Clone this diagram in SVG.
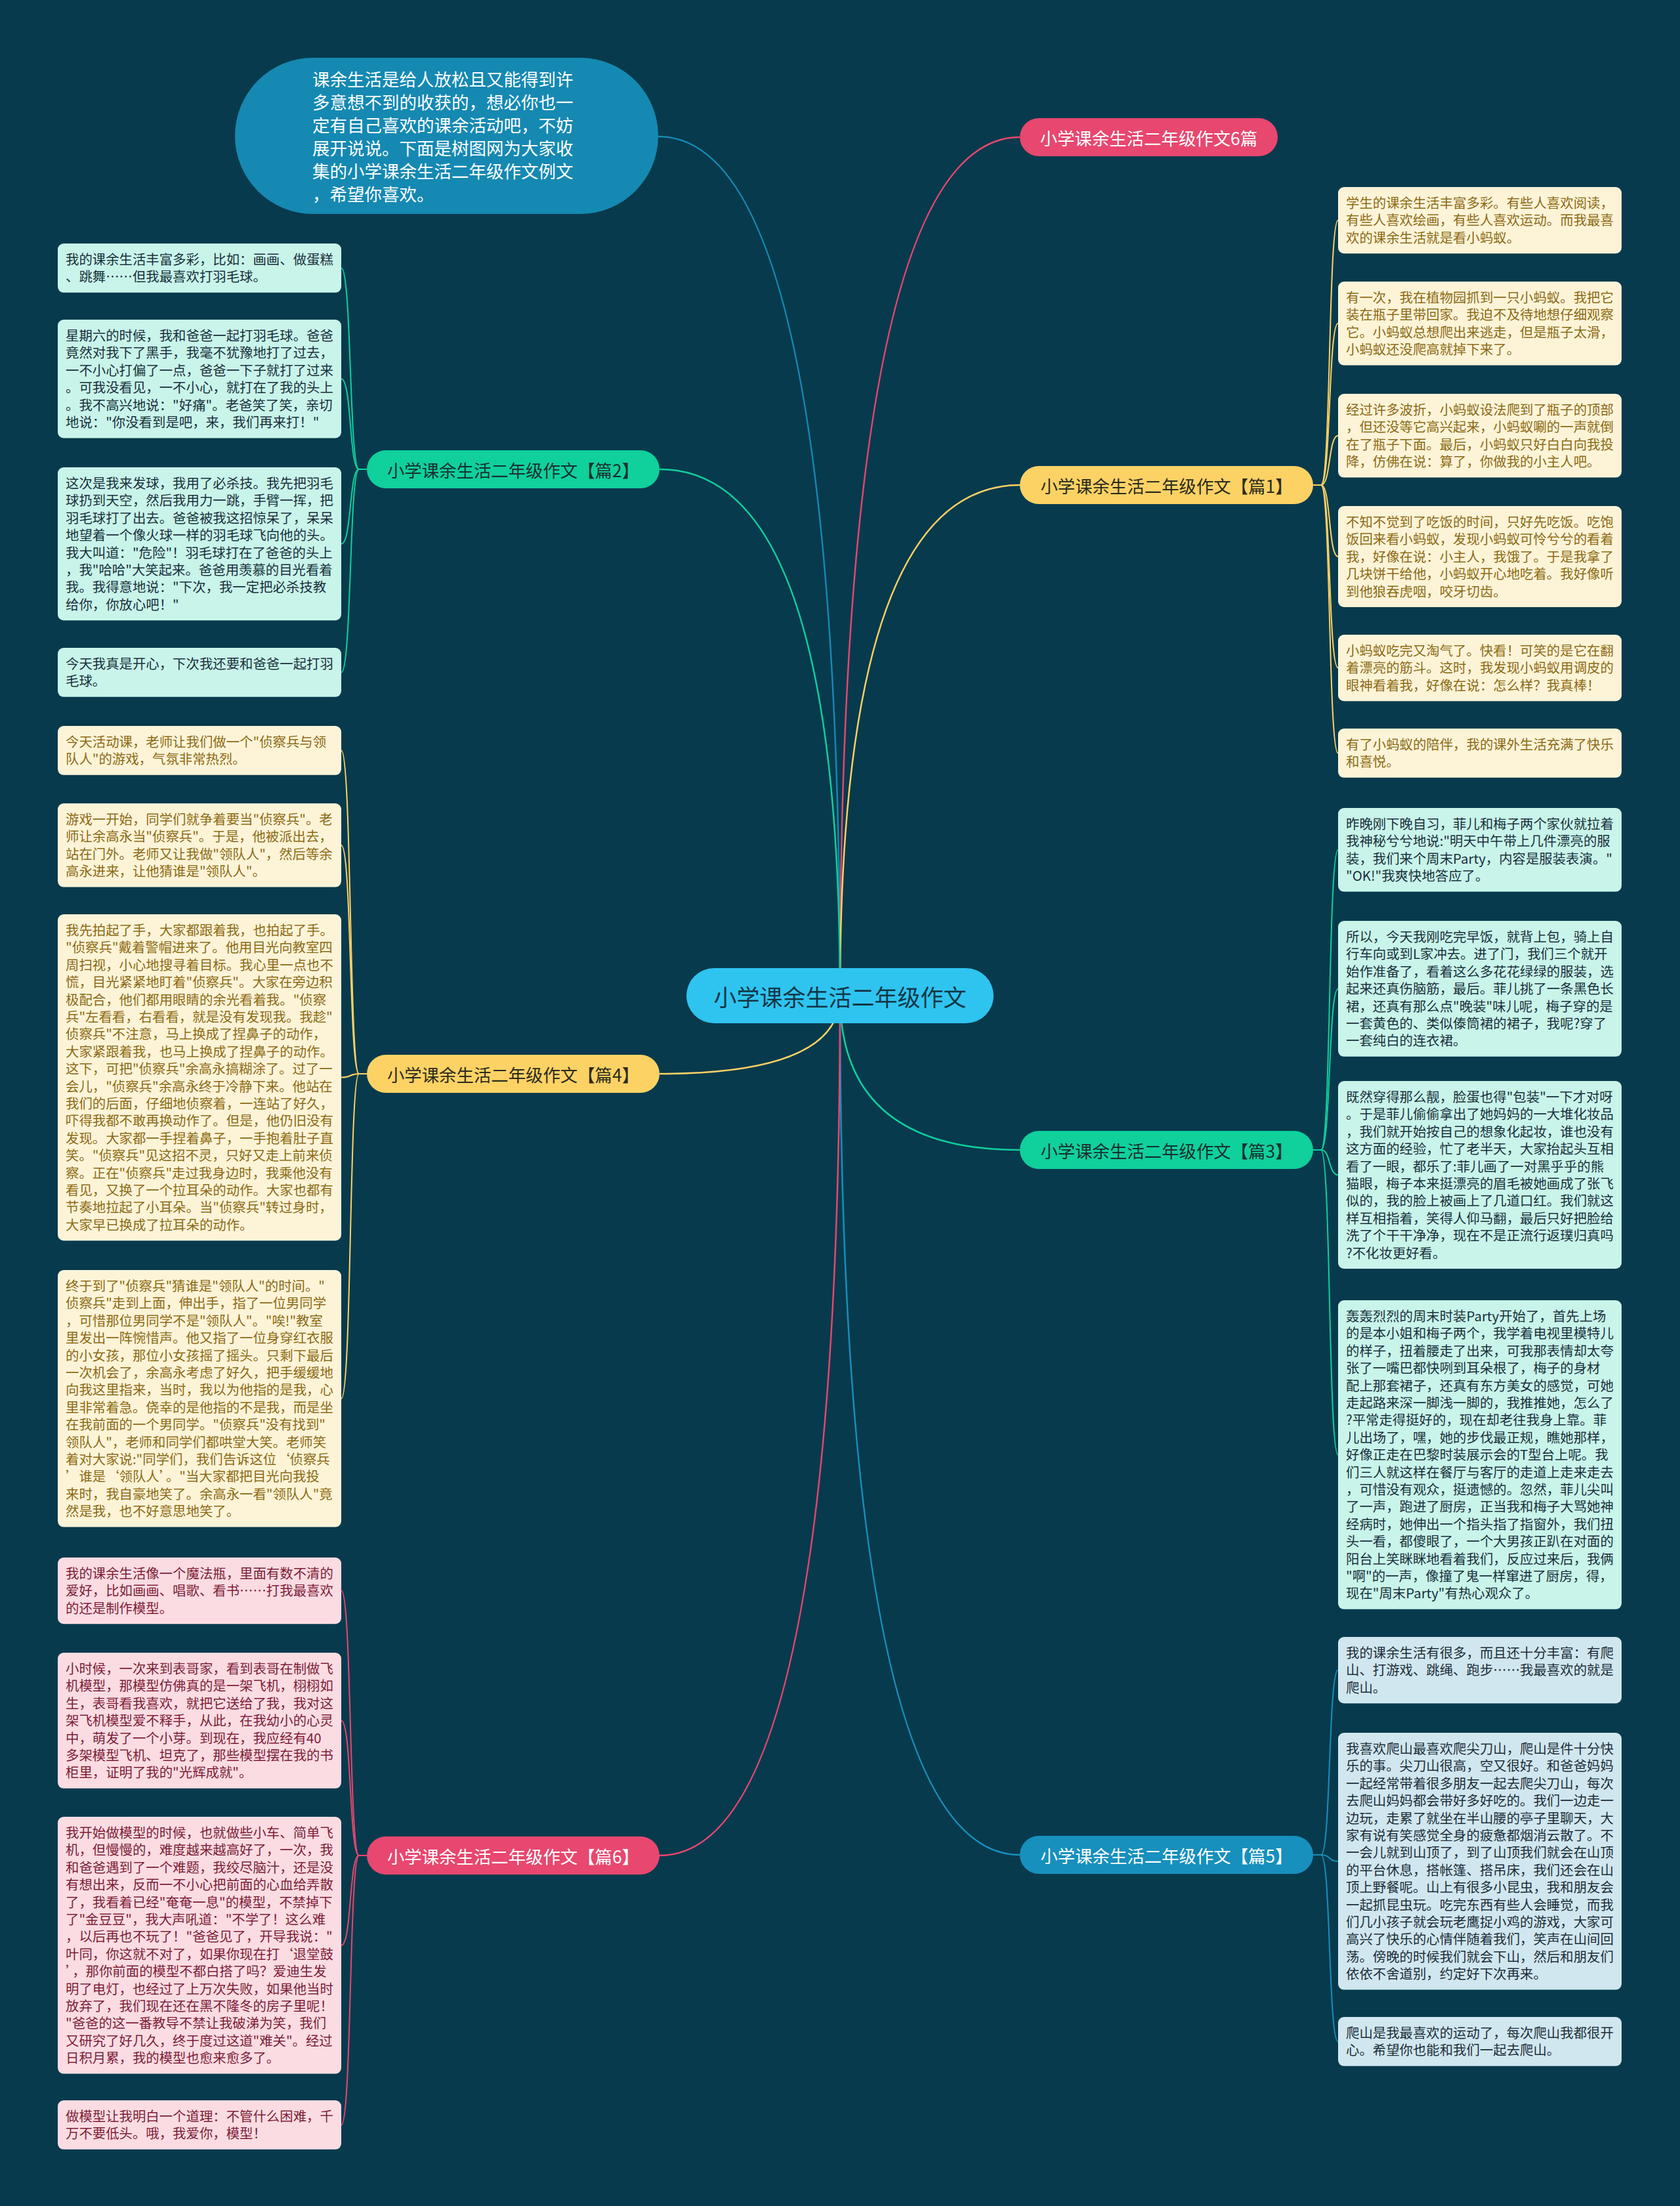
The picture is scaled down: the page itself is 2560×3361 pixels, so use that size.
<svg xmlns="http://www.w3.org/2000/svg" width="2560" height="3361" viewBox="0 0 2560 3361">
<style>
text{font-family:"Noto Sans CJK SC","Noto Sans",sans-serif}
.lt{font-size:20.4px}
.bt{font-size:26.4px}
.m-mint{fill:#c9f4ea}.t-mint{fill:#18303a}
.m-cream{fill:#fdf4d8}.t-cream{fill:#8c6a14}
.m-pink{fill:#fbdce3}.t-pink{fill:#7d1d36}
.m-blue{fill:#d0e7ef}.t-blue{fill:#1c2d38}
.c{fill:none;stroke-width:2.5}
.cl{fill:none;stroke-width:2}
.s-blue{stroke:#1689b3}.s-pink{stroke:#e8476f}.s-yellow{stroke:#fdd264}.s-green{stroke:#10d09c}.s-b5{stroke:#1790bd}
</style>
<rect x="0" y="0" width="2560" height="3361" fill="#083a4d"/>
<g id="connectors">
<path class="c s-blue" d="M1003,208 Q1280,208 1280,1517"/>
<path class="c s-pink" d="M1280,1517 Q1280,209 1554,209"/>
<path class="c s-yellow" d="M1280,1517 Q1280,739 1554,739"/>
<path class="c s-green" d="M1280,1517 Q1280,1752 1554,1752"/>
<path class="c s-b5" d="M1280,1517 Q1280,2826 1554,2826"/>
<path class="c s-green" d="M1280,1517 Q1280,715 1005,715"/>
<path class="c s-yellow" d="M1280,1517 Q1280,1636 1005,1636"/>
<path class="c s-pink" d="M1280,1517 Q1280,2827 1005,2827"/>
<path class="cl s-green" d="M559,715 L547,715 C532,715 536,408.4 520,408.4"/>
<path class="cl s-green" d="M559,715 L547,715 C532,715 536,577.2 520,577.2"/>
<path class="cl s-green" d="M559,715 L547,715 C532,715 536,828.6 520,828.6"/>
<path class="cl s-green" d="M559,715 L547,715 C532,715 536,1024.4 520,1024.4"/>
<path class="cl s-yellow" d="M559,1636 L547,1636 C532,1636 536,1143.4 520,1143.4"/>
<path class="cl s-yellow" d="M559,1636 L547,1636 C532,1636 536,1287.8 520,1287.8"/>
<path class="cl s-yellow" d="M559,1636 L547,1636 C532,1636 536,1641.6 520,1641.6"/>
<path class="cl s-yellow" d="M559,1636 L547,1636 C532,1636 536,2130.8 520,2130.8"/>
<path class="cl s-pink" d="M559,2827 L547,2827 C532,2827 536,2423.6 520,2423.6"/>
<path class="cl s-pink" d="M559,2827 L547,2827 C532,2827 536,2621.4 520,2621.4"/>
<path class="cl s-pink" d="M559,2827 L547,2827 C532,2827 536,2963.8 520,2963.8"/>
<path class="cl s-pink" d="M559,2827 L547,2827 C532,2827 536,3237.4 520,3237.4"/>
<path class="cl s-yellow" d="M2001,739 L2013,739 C2028,739 2024,335.6 2039,335.6"/>
<path class="cl s-yellow" d="M2001,739 L2013,739 C2028,739 2024,492.8 2039,492.8"/>
<path class="cl s-yellow" d="M2001,739 L2013,739 C2028,739 2024,663.8 2039,663.8"/>
<path class="cl s-yellow" d="M2001,739 L2013,739 C2028,739 2024,848 2039,848"/>
<path class="cl s-yellow" d="M2001,739 L2013,739 C2028,739 2024,1017.6 2039,1017.6"/>
<path class="cl s-yellow" d="M2001,739 L2013,739 C2028,739 2024,1147.4 2039,1147.4"/>
<path class="cl s-green" d="M2001,1752 L2013,1752 C2028,1752 2024,1294.8 2039,1294.8"/>
<path class="cl s-green" d="M2001,1752 L2013,1752 C2028,1752 2024,1506.4 2039,1506.4"/>
<path class="cl s-green" d="M2001,1752 L2013,1752 C2028,1752 2024,1790 2039,1790"/>
<path class="cl s-green" d="M2001,1752 L2013,1752 C2028,1752 2024,2216.4 2039,2216.4"/>
<path class="cl s-b5" d="M2001,2826 L2013,2826 C2028,2826 2024,2544.6 2039,2544.6"/>
<path class="cl s-b5" d="M2001,2826 L2013,2826 C2028,2826 2024,2835.8 2039,2835.8"/>
<path class="cl s-b5" d="M2001,2826 L2013,2826 C2028,2826 2024,3110.4 2039,3110.4"/>
</g>
<g id="center">
<rect x="1046" y="1475" width="468" height="84" rx="42" fill="#2fc4f0"/>
<text x="1280" y="1517" text-anchor="middle" dominant-baseline="central" font-size="35" fill="#123645">小学课余生活二年级作文</text>
</g>
<g id="intro">
<rect x="358" y="88" width="645" height="238" rx="119" fill="#1589b2"/>
<text x="476" y="131" font-size="26.5" fill="#ffffff"><tspan x="476">课余生活是给人放松且又能得到许</tspan><tspan x="476" dy="35">多意想不到的收获的，想必你也一</tspan><tspan x="476" dy="35">定有自己喜欢的课余活动吧，不妨</tspan><tspan x="476" dy="35">展开说说。下面是树图网为大家收</tspan><tspan x="476" dy="35">集的小学课余生活二年级作文例文</tspan><tspan x="476" dy="35">，希望你喜欢。</tspan></text>
</g>
<g id="b-6pian">
<rect x="1554" y="180" width="393" height="58" rx="29" fill="#e8476f"/>
<text class="bt" x="1750.5" y="209" text-anchor="middle" dominant-baseline="central" fill="#ffffff">小学课余生活二年级作文6篇</text>
</g>
<g id="b-p1">
<rect x="1554" y="710" width="447" height="58" rx="29" fill="#fdd264"/>
<text class="bt" x="1777.5" y="739" text-anchor="middle" dominant-baseline="central" fill="#2b2a1e">小学课余生活二年级作文【篇1】</text>
</g>
<g id="b-p3">
<rect x="1554" y="1723" width="447" height="58" rx="29" fill="#10d09c"/>
<text class="bt" x="1777.5" y="1752" text-anchor="middle" dominant-baseline="central" fill="#17302e">小学课余生活二年级作文【篇3】</text>
</g>
<g id="b-p5">
<rect x="1554" y="2797" width="447" height="58" rx="29" fill="#1790bd"/>
<text class="bt" x="1777.5" y="2826" text-anchor="middle" dominant-baseline="central" fill="#ffffff">小学课余生活二年级作文【篇5】</text>
</g>
<g id="b-p2">
<rect x="559" y="686" width="446" height="58" rx="29" fill="#10d09c"/>
<text class="bt" x="782" y="715" text-anchor="middle" dominant-baseline="central" fill="#17302e">小学课余生活二年级作文【篇2】</text>
</g>
<g id="b-p4">
<rect x="559" y="1607" width="446" height="58" rx="29" fill="#fdd264"/>
<text class="bt" x="782" y="1636" text-anchor="middle" dominant-baseline="central" fill="#2b2a1e">小学课余生活二年级作文【篇4】</text>
</g>
<g id="b-p6">
<rect x="559" y="2798" width="446" height="58" rx="29" fill="#e8476f"/>
<text class="bt" x="782" y="2827" text-anchor="middle" dominant-baseline="central" fill="#ffffff">小学课余生活二年级作文【篇6】</text>
</g>
<g id="l2a"><rect class="m-mint" x="88" y="371" width="432" height="74.8" rx="9"/><text class="lt t-mint" x="100" y="403"><tspan x="100">我的课余生活丰富多彩，比如：画画、做蛋糕</tspan><tspan x="100" dy="26.4">、跳舞……但我最喜欢打羽毛球。</tspan></text></g>
<g id="l2b"><rect class="m-mint" x="88" y="487" width="432" height="180.4" rx="9"/><text class="lt t-mint" x="100" y="519"><tspan x="100">星期六的时候，我和爸爸一起打羽毛球。爸爸</tspan><tspan x="100" dy="26.4">竟然对我下了黑手，我毫不犹豫地打了过去，</tspan><tspan x="100" dy="26.4">一不小心打偏了一点，爸爸一下子就打了过来</tspan><tspan x="100" dy="26.4">。可我没看见，一不小心，就打在了我的头上</tspan><tspan x="100" dy="26.4">。我不高兴地说："好痛"。老爸笑了笑，亲切</tspan><tspan x="100" dy="26.4">地说："你没看到是吧，来，我们再来打！"</tspan></text></g>
<g id="l2c"><rect class="m-mint" x="88" y="712" width="432" height="233.2" rx="9"/><text class="lt t-mint" x="100" y="744"><tspan x="100">这次是我来发球，我用了必杀技。我先把羽毛</tspan><tspan x="100" dy="26.4">球扔到天空，然后我用力一跳，手臂一挥，把</tspan><tspan x="100" dy="26.4">羽毛球打了出去。爸爸被我这招惊呆了，呆呆</tspan><tspan x="100" dy="26.4">地望着一个像火球一样的羽毛球飞向他的头。</tspan><tspan x="100" dy="26.4">我大叫道："危险"！羽毛球打在了爸爸的头上</tspan><tspan x="100" dy="26.4">，我"哈哈"大笑起来。爸爸用羡慕的目光看着</tspan><tspan x="100" dy="26.4">我。我得意地说："下次，我一定把必杀技教</tspan><tspan x="100" dy="26.4">给你，你放心吧！"</tspan></text></g>
<g id="l2d"><rect class="m-mint" x="88" y="987" width="432" height="74.8" rx="9"/><text class="lt t-mint" x="100" y="1019"><tspan x="100">今天我真是开心，下次我还要和爸爸一起打羽</tspan><tspan x="100" dy="26.4">毛球。</tspan></text></g>
<g id="l4a"><rect class="m-cream" x="88" y="1106" width="432" height="74.8" rx="9"/><text class="lt t-cream" x="100" y="1138"><tspan x="100">今天活动课，老师让我们做一个"侦察兵与领</tspan><tspan x="100" dy="26.4">队人"的游戏，气氛非常热烈。</tspan></text></g>
<g id="l4b"><rect class="m-cream" x="88" y="1224" width="432" height="127.6" rx="9"/><text class="lt t-cream" x="100" y="1256"><tspan x="100">游戏一开始，同学们就争着要当"侦察兵"。老</tspan><tspan x="100" dy="26.4">师让余高永当"侦察兵"。于是，他被派出去，</tspan><tspan x="100" dy="26.4">站在门外。老师又让我做"领队人"，然后等余</tspan><tspan x="100" dy="26.4">高永进来，让他猜谁是"领队人"。</tspan></text></g>
<g id="l4c"><rect class="m-cream" x="88" y="1393" width="432" height="497.2" rx="9"/><text class="lt t-cream" x="100" y="1425"><tspan x="100">我先拍起了手，大家都跟着我，也拍起了手。</tspan><tspan x="100" dy="26.4">"侦察兵"戴着警帽进来了。他用目光向教室四</tspan><tspan x="100" dy="26.4">周扫视，小心地搜寻着目标。我心里一点也不</tspan><tspan x="100" dy="26.4">慌，目光紧紧地盯着"侦察兵"。大家在旁边积</tspan><tspan x="100" dy="26.4">极配合，他们都用眼睛的余光看着我。"侦察</tspan><tspan x="100" dy="26.4">兵"左看看，右看看，就是没有发现我。我趁"</tspan><tspan x="100" dy="26.4">侦察兵"不注意，马上换成了捏鼻子的动作，</tspan><tspan x="100" dy="26.4">大家紧跟着我，也马上换成了捏鼻子的动作。</tspan><tspan x="100" dy="26.4">这下，可把"侦察兵"余高永搞糊涂了。过了一</tspan><tspan x="100" dy="26.4">会儿，"侦察兵"余高永终于冷静下来。他站在</tspan><tspan x="100" dy="26.4">我们的后面，仔细地侦察着，一连站了好久，</tspan><tspan x="100" dy="26.4">吓得我都不敢再换动作了。但是，他仍旧没有</tspan><tspan x="100" dy="26.4">发现。大家都一手捏着鼻子，一手抱着肚子直</tspan><tspan x="100" dy="26.4">笑。"侦察兵"见这招不灵，只好又走上前来侦</tspan><tspan x="100" dy="26.4">察。正在"侦察兵"走过我身边时，我乘他没有</tspan><tspan x="100" dy="26.4">看见，又换了一个拉耳朵的动作。大家也都有</tspan><tspan x="100" dy="26.4">节奏地拉起了小耳朵。当"侦察兵"转过身时，</tspan><tspan x="100" dy="26.4">大家早已换成了拉耳朵的动作。</tspan></text></g>
<g id="l4d"><rect class="m-cream" x="88" y="1935" width="432" height="391.6" rx="9"/><text class="lt t-cream" x="100" y="1967"><tspan x="100">终于到了"侦察兵"猜谁是"领队人"的时间。"</tspan><tspan x="100" dy="26.4">侦察兵"走到上面，伸出手，指了一位男同学</tspan><tspan x="100" dy="26.4">，可惜那位男同学不是"领队人"。"唉!"教室</tspan><tspan x="100" dy="26.4">里发出一阵惋惜声。他又指了一位身穿红衣服</tspan><tspan x="100" dy="26.4">的小女孩，那位小女孩摇了摇头。只剩下最后</tspan><tspan x="100" dy="26.4">一次机会了，余高永考虑了好久，把手缓缓地</tspan><tspan x="100" dy="26.4">向我这里指来，当时，我以为他指的是我，心</tspan><tspan x="100" dy="26.4">里非常着急。侥幸的是他指的不是我，而是坐</tspan><tspan x="100" dy="26.4">在我前面的一个男同学。"侦察兵"没有找到"</tspan><tspan x="100" dy="26.4">领队人"，老师和同学们都哄堂大笑。老师笑</tspan><tspan x="100" dy="26.4">着对大家说:"同学们，我们告诉这位‘侦察兵</tspan><tspan x="100" dy="26.4">’谁是‘领队人’。"当大家都把目光向我投</tspan><tspan x="100" dy="26.4">来时，我自豪地笑了。余高永一看"领队人"竟</tspan><tspan x="100" dy="26.4">然是我，也不好意思地笑了。</tspan></text></g>
<g id="l6a"><rect class="m-pink" x="88" y="2373" width="432" height="101.2" rx="9"/><text class="lt t-pink" x="100" y="2405"><tspan x="100">我的课余生活像一个魔法瓶，里面有数不清的</tspan><tspan x="100" dy="26.4">爱好，比如画画、唱歌、看书……打我最喜欢</tspan><tspan x="100" dy="26.4">的还是制作模型。</tspan></text></g>
<g id="l6b"><rect class="m-pink" x="88" y="2518" width="432" height="206.8" rx="9"/><text class="lt t-pink" x="100" y="2550"><tspan x="100">小时候，一次来到表哥家，看到表哥在制做飞</tspan><tspan x="100" dy="26.4">机模型，那模型仿佛真的是一架飞机，栩栩如</tspan><tspan x="100" dy="26.4">生，表哥看我喜欢，就把它送给了我，我对这</tspan><tspan x="100" dy="26.4">架飞机模型爱不释手，从此，在我幼小的心灵</tspan><tspan x="100" dy="26.4">中，萌发了一个小芽。到现在，我应经有40</tspan><tspan x="100" dy="26.4">多架模型飞机、坦克了，那些模型摆在我的书</tspan><tspan x="100" dy="26.4">柜里，证明了我的"光辉成就"。</tspan></text></g>
<g id="l6c"><rect class="m-pink" x="88" y="2768" width="432" height="391.6" rx="9"/><text class="lt t-pink" x="100" y="2800"><tspan x="100">我开始做模型的时候，也就做些小车、简单飞</tspan><tspan x="100" dy="26.4">机，但慢慢的，难度越来越高好了，一次，我</tspan><tspan x="100" dy="26.4">和爸爸遇到了一个难题，我绞尽脑汁，还是没</tspan><tspan x="100" dy="26.4">有想出来，反而一不小心把前面的心血给弄散</tspan><tspan x="100" dy="26.4">了，我看着已经"奄奄一息"的模型，不禁掉下</tspan><tspan x="100" dy="26.4">了"金豆豆"，我大声吼道："不学了！这么难</tspan><tspan x="100" dy="26.4">，以后再也不玩了！"爸爸见了，开导我说："</tspan><tspan x="100" dy="26.4">叶同，你这就不对了，如果你现在打‘退堂鼓</tspan><tspan x="100" dy="26.4">’，那你前面的模型不都白搭了吗？爱迪生发</tspan><tspan x="100" dy="26.4">明了电灯，也经过了上万次失败，如果他当时</tspan><tspan x="100" dy="26.4">放弃了，我们现在还在黑不隆冬的房子里呢！</tspan><tspan x="100" dy="26.4">"爸爸的这一番教导不禁让我破涕为笑，我们</tspan><tspan x="100" dy="26.4">又研究了好几久，终于度过这道"难关"。经过</tspan><tspan x="100" dy="26.4">日积月累，我的模型也愈来愈多了。</tspan></text></g>
<g id="l6d"><rect class="m-pink" x="88" y="3200" width="432" height="74.8" rx="9"/><text class="lt t-pink" x="100" y="3232"><tspan x="100">做模型让我明白一个道理：不管什么困难，千</tspan><tspan x="100" dy="26.4">万不要低头。哦，我爱你，模型！</tspan></text></g>
<g id="r1a"><rect class="m-cream" x="2039" y="285" width="432" height="101.2" rx="9"/><text class="lt t-cream" x="2051" y="317"><tspan x="2051">学生的课余生活丰富多彩。有些人喜欢阅读，</tspan><tspan x="2051" dy="26.4">有些人喜欢绘画，有些人喜欢运动。而我最喜</tspan><tspan x="2051" dy="26.4">欢的课余生活就是看小蚂蚁。</tspan></text></g>
<g id="r1b"><rect class="m-cream" x="2039" y="429" width="432" height="127.6" rx="9"/><text class="lt t-cream" x="2051" y="461"><tspan x="2051">有一次，我在植物园抓到一只小蚂蚁。我把它</tspan><tspan x="2051" dy="26.4">装在瓶子里带回家。我迫不及待地想仔细观察</tspan><tspan x="2051" dy="26.4">它。小蚂蚁总想爬出来逃走，但是瓶子太滑，</tspan><tspan x="2051" dy="26.4">小蚂蚁还没爬高就掉下来了。</tspan></text></g>
<g id="r1c"><rect class="m-cream" x="2039" y="600" width="432" height="127.6" rx="9"/><text class="lt t-cream" x="2051" y="632"><tspan x="2051">经过许多波折，小蚂蚁设法爬到了瓶子的顶部</tspan><tspan x="2051" dy="26.4">，但还没等它高兴起来，小蚂蚁唰的一声就倒</tspan><tspan x="2051" dy="26.4">在了瓶子下面。最后，小蚂蚁只好白白向我投</tspan><tspan x="2051" dy="26.4">降，仿佛在说：算了，你做我的小主人吧。</tspan></text></g>
<g id="r1d"><rect class="m-cream" x="2039" y="771" width="432" height="154" rx="9"/><text class="lt t-cream" x="2051" y="803"><tspan x="2051">不知不觉到了吃饭的时间，只好先吃饭。吃饱</tspan><tspan x="2051" dy="26.4">饭回来看小蚂蚁，发现小蚂蚁可怜兮兮的看着</tspan><tspan x="2051" dy="26.4">我，好像在说：小主人，我饿了。于是我拿了</tspan><tspan x="2051" dy="26.4">几块饼干给他，小蚂蚁开心地吃着。我好像听</tspan><tspan x="2051" dy="26.4">到他狼吞虎咽，咬牙切齿。</tspan></text></g>
<g id="r1e"><rect class="m-cream" x="2039" y="967" width="432" height="101.2" rx="9"/><text class="lt t-cream" x="2051" y="999"><tspan x="2051">小蚂蚁吃完又淘气了。快看！可笑的是它在翻</tspan><tspan x="2051" dy="26.4">着漂亮的筋斗。这时，我发现小蚂蚁用调皮的</tspan><tspan x="2051" dy="26.4">眼神看着我，好像在说：怎么样？我真棒！</tspan></text></g>
<g id="r1f"><rect class="m-cream" x="2039" y="1110" width="432" height="74.8" rx="9"/><text class="lt t-cream" x="2051" y="1142"><tspan x="2051">有了小蚂蚁的陪伴，我的课外生活充满了快乐</tspan><tspan x="2051" dy="26.4">和喜悦。</tspan></text></g>
<g id="r3a"><rect class="m-mint" x="2039" y="1231" width="432" height="127.6" rx="9"/><text class="lt t-mint" x="2051" y="1263"><tspan x="2051">昨晚刚下晚自习，菲儿和梅子两个家伙就拉着</tspan><tspan x="2051" dy="26.4">我神秘兮兮地说:"明天中午带上几件漂亮的服</tspan><tspan x="2051" dy="26.4">装，我们来个周末Party，内容是服装表演。"</tspan><tspan x="2051" dy="26.4">"OK!"我爽快地答应了。</tspan></text></g>
<g id="r3b"><rect class="m-mint" x="2039" y="1403" width="432" height="206.8" rx="9"/><text class="lt t-mint" x="2051" y="1435"><tspan x="2051">所以，今天我刚吃完早饭，就背上包，骑上自</tspan><tspan x="2051" dy="26.4">行车向或到L家冲去。进了门，我们三个就开</tspan><tspan x="2051" dy="26.4">始作准备了，看着这么多花花绿绿的服装，选</tspan><tspan x="2051" dy="26.4">起来还真伤脑筋，最后。菲儿挑了一条黑色长</tspan><tspan x="2051" dy="26.4">裙，还真有那么点"晚装"味儿呢，梅子穿的是</tspan><tspan x="2051" dy="26.4">一套黄色的、类似傣筒裙的裙子，我呢?穿了</tspan><tspan x="2051" dy="26.4">一套纯白的连衣裙。</tspan></text></g>
<g id="r3c"><rect class="m-mint" x="2039" y="1647" width="432" height="286" rx="9"/><text class="lt t-mint" x="2051" y="1679"><tspan x="2051">既然穿得那么靓，脸蛋也得"包装"一下才对呀</tspan><tspan x="2051" dy="26.4">。于是菲儿偷偷拿出了她妈妈的一大堆化妆品</tspan><tspan x="2051" dy="26.4">，我们就开始按自己的想象化起妆，谁也没有</tspan><tspan x="2051" dy="26.4">这方面的经验，忙了老半天，大家抬起头互相</tspan><tspan x="2051" dy="26.4">看了一眼，都乐了:菲儿画了一对黑乎乎的熊</tspan><tspan x="2051" dy="26.4">猫眼，梅子本来挺漂亮的眉毛被她画成了张飞</tspan><tspan x="2051" dy="26.4">似的，我的脸上被画上了几道口红。我们就这</tspan><tspan x="2051" dy="26.4">样互相指着，笑得人仰马翻，最后只好把脸给</tspan><tspan x="2051" dy="26.4">洗了个干干净净，现在不是正流行返璞归真吗</tspan><tspan x="2051" dy="26.4">?不化妆更好看。</tspan></text></g>
<g id="r3d"><rect class="m-mint" x="2039" y="1981" width="432" height="470.8" rx="9"/><text class="lt t-mint" x="2051" y="2013"><tspan x="2051">轰轰烈烈的周末时装Party开始了，首先上场</tspan><tspan x="2051" dy="26.4">的是本小姐和梅子两个，我学着电视里模特儿</tspan><tspan x="2051" dy="26.4">的样子，扭着腰走了出来，可我那表情却太夸</tspan><tspan x="2051" dy="26.4">张了一嘴巴都快咧到耳朵根了，梅子的身材</tspan><tspan x="2051" dy="26.4">配上那套裙子，还真有东方美女的感觉，可她</tspan><tspan x="2051" dy="26.4">走起路来深一脚浅一脚的，我推推她，怎么了</tspan><tspan x="2051" dy="26.4">?平常走得挺好的，现在却老往我身上靠。菲</tspan><tspan x="2051" dy="26.4">儿出场了，嘿，她的步伐最正规，瞧她那样，</tspan><tspan x="2051" dy="26.4">好像正走在巴黎时装展示会的T型台上呢。我</tspan><tspan x="2051" dy="26.4">们三人就这样在餐厅与客厅的走道上走来走去</tspan><tspan x="2051" dy="26.4">，可惜没有观众，挺遗憾的。忽然，菲儿尖叫</tspan><tspan x="2051" dy="26.4">了一声，跑进了厨房，正当我和梅子大骂她神</tspan><tspan x="2051" dy="26.4">经病时，她伸出一个指头指了指窗外，我们扭</tspan><tspan x="2051" dy="26.4">头一看，都傻眼了，一个大男孩正趴在对面的</tspan><tspan x="2051" dy="26.4">阳台上笑眯眯地看着我们，反应过来后，我俩</tspan><tspan x="2051" dy="26.4">"啊"的一声，像撞了鬼一样窜进了厨房，得，</tspan><tspan x="2051" dy="26.4">现在"周末Party"有热心观众了。</tspan></text></g>
<g id="r5a"><rect class="m-blue" x="2039" y="2494" width="432" height="101.2" rx="9"/><text class="lt t-blue" x="2051" y="2526"><tspan x="2051">我的课余生活有很多，而且还十分丰富：有爬</tspan><tspan x="2051" dy="26.4">山、打游戏、跳绳、跑步……我最喜欢的就是</tspan><tspan x="2051" dy="26.4">爬山。</tspan></text></g>
<g id="r5b"><rect class="m-blue" x="2039" y="2640" width="432" height="391.6" rx="9"/><text class="lt t-blue" x="2051" y="2672"><tspan x="2051">我喜欢爬山最喜欢爬尖刀山，爬山是件十分快</tspan><tspan x="2051" dy="26.4">乐的事。尖刀山很高，空又很好。和爸爸妈妈</tspan><tspan x="2051" dy="26.4">一起经常带着很多朋友一起去爬尖刀山，每次</tspan><tspan x="2051" dy="26.4">去爬山妈妈都会带好多好吃的。我们一边走一</tspan><tspan x="2051" dy="26.4">边玩，走累了就坐在半山腰的亭子里聊天，大</tspan><tspan x="2051" dy="26.4">家有说有笑感觉全身的疲惫都烟消云散了。不</tspan><tspan x="2051" dy="26.4">一会儿就到山顶了，到了山顶我们就会在山顶</tspan><tspan x="2051" dy="26.4">的平台休息，搭帐篷、搭吊床，我们还会在山</tspan><tspan x="2051" dy="26.4">顶上野餐呢。山上有很多小昆虫，我和朋友会</tspan><tspan x="2051" dy="26.4">一起抓昆虫玩。吃完东西有些人会睡觉，而我</tspan><tspan x="2051" dy="26.4">们几小孩子就会玩老鹰捉小鸡的游戏，大家可</tspan><tspan x="2051" dy="26.4">高兴了快乐的心情伴随着我们，笑声在山间回</tspan><tspan x="2051" dy="26.4">荡。傍晚的时候我们就会下山，然后和朋友们</tspan><tspan x="2051" dy="26.4">依依不舍道别，约定好下次再来。</tspan></text></g>
<g id="r5c"><rect class="m-blue" x="2039" y="3073" width="432" height="74.8" rx="9"/><text class="lt t-blue" x="2051" y="3105"><tspan x="2051">爬山是我最喜欢的运动了，每次爬山我都很开</tspan><tspan x="2051" dy="26.4">心。希望你也能和我们一起去爬山。</tspan></text></g>
</svg>
